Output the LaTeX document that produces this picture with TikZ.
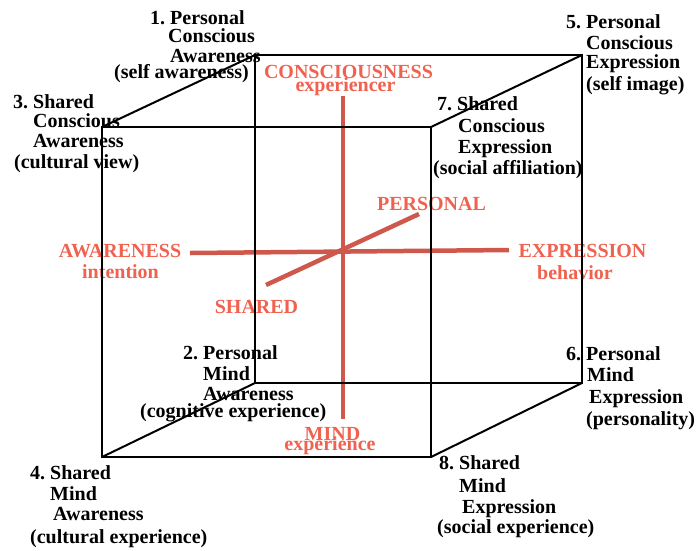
\documentclass[tikz,border=0pt]{standalone}
\usepackage{fontspec}
\setmainfont{Liberation Serif}
\frenchspacing
\definecolor{axisred}{RGB}{205,88,75}
\definecolor{textred}{RGB}{240,98,80}
\begin{document}
\begin{tikzpicture}[x=1pt,y=-1pt,
  cube/.style={draw=black, line width=2pt, line join=miter},
  axisline/.style={draw=axisred, line width=4.5pt},
  blk/.style={font=\bfseries\fontsize{20}{21}\selectfont, align=left, inner sep=0pt, anchor=base west},
  redlbl/.style={text=textred, font=\bfseries\fontsize{20}{21}\selectfont, inner sep=0pt, anchor=base}]
\useasboundingbox (0,0) rectangle (696,550);
% cube corners
\coordinate (btl) at (255,55);
\coordinate (btr) at (582,55);
\coordinate (bbr) at (582,383);
\coordinate (bbl) at (255,383);
\coordinate (ftl) at (102,127);
\coordinate (ftr) at (431,127);
\coordinate (fbr) at (431,457);
\coordinate (fbl) at (102,457);
% axis ends
\coordinate (vt) at (343,96);
\coordinate (vb) at (343,419);
\coordinate (hl) at (190,253);
\coordinate (hr) at (509,250);
\coordinate (dl) at (266,285);
\coordinate (dr) at (419,214);
% red labels
\node[redlbl] (cons) at (348.5,78) {CONSCIOUSNESS};
\node[redlbl] (consS) at (345.5,91) {experiencer};
\node[redlbl] (pers) at (431.5,210) {PERSONAL};
\node[redlbl] (aw) at (120,257) {AWARENESS};
\node[redlbl] (awS) at (120.5,278) {intention};
\node[redlbl] (ex) at (582.5,257) {EXPRESSION};
\node[redlbl] (exS) at (575,279) {behavior};
\node[redlbl] (sh) at (256.5,313) {SHARED};
\node[redlbl] (mind) at (332.5,440) {MIND};
\node[redlbl] (mindS) at (330,450) {experience};
% axes
\draw[axisline] (vt) -- (vb);
\draw[axisline] (hl) -- (hr);
\draw[axisline] (dl) -- (dr);
% cube
\draw[cube] (btl) -- (btr) -- (bbr) -- (bbl) -- cycle;
\draw[cube] (ftl) -- (ftr) -- (fbr) -- (fbl) -- cycle;
\draw[cube] (btl) -- (ftl);
\draw[cube] (btr) -- (ftr);
\draw[cube] (bbr) -- (fbr);
\draw[cube] (bbl) -- (fbl);
% black labels (anchored at the baseline of the last line)
\node[blk] (l1) at (114,78) {\hspace*{36pt}1. Personal\\[-3pt]\hspace*{54pt}Conscious\\[-1pt]\hspace*{56pt}Awareness\\[-5pt](self awareness)};
\node[blk] (l3) at (13,168) {3. Shared\\[-2pt]\hspace*{20pt}Conscious\\[-1pt]\hspace*{20pt}Awareness\\\hspace*{1pt}(cultural view)};
\node[blk] (l5) at (566,90) {5. Personal\\\hspace*{20pt}Conscious\\[-2pt]\hspace*{20pt}Expression\\[1pt]\hspace*{20pt}(self image)};
\node[blk] (l7) at (433,174) {\hspace*{4pt}7. Shared\\[1pt]\hspace*{25pt}Conscious\\\hspace*{25pt}Expression\\(social affiliation)};
\node[blk] (l2) at (140,417) {\hspace*{43pt}2. Personal\\\hspace*{63pt}Mind\\[-1pt]\hspace*{63pt}Awareness\\[-4pt](cognitive experience)};
\node[blk] (l4) at (30,543) {4. Shared\\\hspace*{20pt}Mind\\[-1pt]\hspace*{23pt}Awareness\\[2pt](cultural experience)};
\node[blk] (l6) at (566,425) {6. Personal\\\hspace*{21pt}Mind\\[1pt]\hspace*{23pt}Expression\\[1pt]\hspace*{20pt}(personality)};
\node[blk] (l8) at (437,533) {\hspace*{2pt}8. Shared\\[2pt]\hspace*{22pt}Mind\\\hspace*{25pt}Expression\\[-1pt](social experience)};
\end{tikzpicture}
\end{document}
